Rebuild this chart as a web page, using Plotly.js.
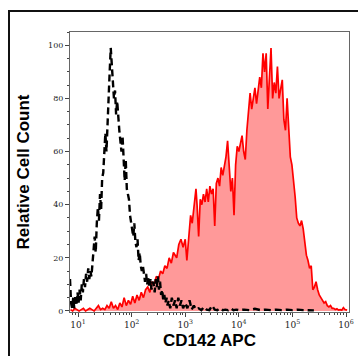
<!DOCTYPE html>
<html>
<head>
<meta charset="utf-8">
<script src="https://cdn.plot.ly/plotly-3.0.1.min.js"></script>
<style>
html,body{margin:0;padding:0;background:#fff;}
#wrap{position:relative;width:358px;height:356px;overflow:hidden;}
#chart{position:absolute;left:0;top:0;width:358px;height:356px;}
#frame{position:absolute;left:8px;top:10px;width:360px;height:360px;border-top:2px solid #111;border-left:2px solid #111;pointer-events:none;}
</style>
</head>
<body>
<div id="wrap"><div id="chart"></div><div id="frame"></div></div>
<script>
// CD142 APC stained sample (log10 of fluorescence, relative count)
const stainedLog = [0.86,0.90,0.94,0.98,1.02,1.06,1.10,1.14,1.18,1.22,1.26,1.30,1.34,1.38,1.42,1.46,1.50,1.54,1.58,1.62,1.66,1.70,1.74,1.78,1.82,1.86,1.90,1.94,1.98,2.02,2.06,2.10,2.14,2.18,2.22,2.26,2.30,2.34,2.38,2.42,2.46,2.50,2.54,2.58,2.62,2.66,2.70,2.74,2.78,2.81,2.84,2.88,2.92,2.96,3.00,3.03,3.07,3.10,3.13,3.17,3.20,3.22,3.25,3.28,3.31,3.34,3.37,3.40,3.43,3.46,3.49,3.52,3.55,3.58,3.61,3.64,3.67,3.70,3.73,3.76,3.79,3.82,3.85,3.88,3.91,3.94,3.97,4.00,4.03,4.06,4.09,4.12,4.15,4.18,4.21,4.24,4.27,4.30,4.33,4.36,4.39,4.42,4.45,4.48,4.51,4.54,4.57,4.60,4.63,4.66,4.69,4.72,4.75,4.78,4.81,4.84,4.87,4.90,4.93,4.96,4.99,5.02,5.05,5.08,5.11,5.14,5.17,5.20,5.23,5.26,5.29,5.32,5.35,5.38,5.41,5.44,5.47,5.50,5.53,5.56,5.59,5.62,5.65,5.68,5.71,5.74,5.77,5.80,5.83,5.86,5.89,5.92,5.95,5.98,6.02];
const stainedCount = [0.5,0,1,0.5,0,0.5,1,0,0.5,1,0.5,0,1,2,0.5,1,0.5,2,1,3.5,1,2,0.5,3,1.5,5,2,4,2.5,5.5,3,6,4,7,5,8,9,7,11,10,13,12,15,14,17,16,20,18,22,21,20,25,27,24,27,19,30,36,33,42,46,40,28,42,40,44,41,46,41,47,44,46,32,48,50,47,54,51,55,58,64,52,45,50,36,55,62,60,63,66,60,57,68,74,82,76,80,84,78,84,88,84,97,90,97,76,88,99,80,86,82,92,80,84,87,72,68,80,66,58,55,50,43,35,33,32,34,31,25,21,19,16,17,8,9,11,8,6,5,4,3,3.5,2,1.5,2,1,1,0.5,0.8,0.3,0.5,0.3,1.2,0.5,0.3];

// Isotype control (dashed)
const isotypeLog = [0.85,0.87,0.89,0.91,0.93,0.95,0.97,0.99,1.01,1.03,1.05,1.07,1.09,1.11,1.13,1.15,1.17,1.19,1.21,1.23,1.25,1.27,1.29,1.31,1.33,1.35,1.37,1.39,1.41,1.43,1.45,1.47,1.49,1.51,1.53,1.55,1.57,1.59,1.61,1.63,1.65,1.67,1.69,1.71,1.73,1.75,1.77,1.79,1.81,1.83,1.85,1.87,1.89,1.91,1.93,1.95,1.97,1.99,2.01,2.03,2.05,2.07,2.09,2.11,2.13,2.15,2.17,2.19,2.21,2.23,2.25,2.27,2.29,2.31,2.33,2.35,2.37,2.39,2.41,2.43,2.45,2.47,2.49,2.51,2.53,2.55,2.57,2.59,2.61,2.63,2.65,2.67,2.69,2.72,2.75,2.78,2.81,2.84,2.87,2.90,2.93,2.96,3.00,3.04,3.08,3.12,3.16,3.20,3.25,3.30,3.35,3.40,3.45,3.50,3.55,3.60,3.65,3.70,3.75,3.80,3.85,3.90,3.95,4.00,4.10,4.20,4.30,4.40,4.50,4.60,4.70,4.80,4.90,5.00,5.10,5.20,5.40];
const isotypeCount = [12,3,1,5,1,6,2,7,3,8,4,10,7,12,9,14,11,16,12,15,13,20,23,28,22,33,39,34,44,38,50,52,59,67,60,72,76,90,99,91,84,80,83,74,79,72,68,64,60,66,54,49,57,46,44,42,36,33,29,28,33,26,24,27,19,22,17,15,17,13,11,14,10,13,9,12,8,11,10,7,12,9,13,8,11,6,8,4,6,3,5,2,4,1,5,2,4,1,5,2,4,1,3,1,4,0.5,2,0.5,1,0.3,1.5,0.5,0.3,2,0.5,0.3,1,0.3,0.5,0.3,1,0.3,0.5,0.3,0.5,0.3,0.8,0.3,0.5,0.3,0.5,0.3,0.5,0.3,0.5,0.3,0.2];

const xTickVals = [10,100,1000,10000,100000,1000000];
const xTickText = ['10<sup>1</sup>','10<sup>2</sup>','10<sup>3</sup>','10<sup>4</sup>','10<sup>5</sup>','10<sup>6</sup>'];
const yTickVals = [0,20,40,60,80,100];

const toLin = a => a.map(v => Math.pow(10, v));
const minorX = [8,9];
[10,100,1000,10000,100000].forEach(d => { for (let k = 2; k <= 9; k++) minorX.push(d*k); });

const traces = [
  {x: toLin(stainedLog), y: stainedCount, type:'scatter', mode:'lines',
   line:{color:'#ff0000', width:1.7}, fill:'tozeroy', fillcolor:'rgba(255,0,0,0.4)', hoverinfo:'skip'},
  {x: toLin(isotypeLog), y: isotypeCount, type:'scatter', mode:'lines',
   line:{color:'#000000', width:2.4, dash:'7px,4px'}, hoverinfo:'skip'}
];

const layout = {
  width:358, height:356,
  margin:{l:70, r:9, t:32, b:44, pad:0},
  paper_bgcolor:'#fff', plot_bgcolor:'#fff',
  showlegend:false,
  xaxis:{type:'log', range:[0.85,6.055], showgrid:false, zeroline:false,
    showline:true, linecolor:'#666', linewidth:1, mirror:true,
    ticks:'outside', ticklen:4, tickcolor:'#444', tickwidth:1,
    tickmode:'array', tickvals:xTickVals, ticktext:xTickText,
    tickfont:{family:'DejaVu Serif', size:9, color:'#222'},
    minor:{tickmode:'array', tickvals:minorX, ticks:'outside', ticklen:2, tickcolor:'#444'},
    title:{text:'<b>CD142 APC</b>', font:{family:'Liberation Sans', size:17, color:'#000'}, standoff:5}},
  yaxis:{range:[-0.4,105], showgrid:false, zeroline:false,
    showline:true, linecolor:'#666', linewidth:1, mirror:true,
    ticks:'outside', ticklen:4, tickcolor:'#444', tickwidth:1,
    tickmode:'array', tickvals:yTickVals,
    tickfont:{family:'DejaVu Serif', size:8, color:'#222'},
    minor:{dtick:5, ticks:'outside', ticklen:2, tickcolor:'#444'},
    title:{text:'<b>Relative Cell Count</b>', font:{family:'Liberation Sans', size:17, color:'#000'}, standoff:14}}
};
Plotly.newPlot('chart', traces, layout, {staticPlot:true, displayModeBar:false});
</script>
</body>
</html>
